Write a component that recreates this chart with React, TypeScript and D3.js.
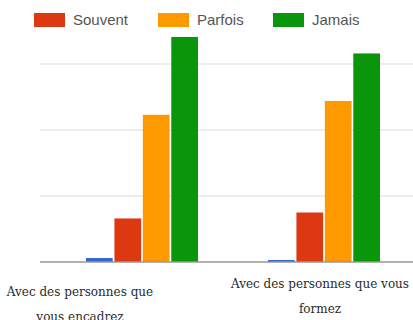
import React from "react";
import * as d3 from "d3";

const categories = ["Avec des personnes que vous encadrez", "Avec des personnes que vous formez"];
const labelLines = [
  ["Avec des personnes que", "vous encadrez"],
  ["Avec des personnes que vous", "formez"],
];
const series = ["Sans réponse", "Souvent", "Parfois", "Jamais"];
const legendSeries = ["Souvent", "Parfois", "Jamais"];
const colors = ["#3366cc", "#dc3912", "#ff9900", "#0a960a"];
const values = [
  [0.6, 6.6, 22.3, 34.1],
  [0.3, 7.5, 24.4, 31.6],
];
const gridTicks = [10, 20, 30];

export default function App() {
  const W = 413, H = 320;
  const baseY = 262;
  const y = d3.scaleLinear().domain([0, 40]).range([baseY, baseY - 264]);
  const x0 = d3.scaleBand().domain(categories).range([51, 415]);
  const x1 = d3.scaleBand().domain(series).range([35, 147]).paddingInner(0.06);
  const labelX = [80, 320];
  const labelY = [296, 288];
  const legendX = [34, 158, 273];

  return (
    <svg width={W} height={H} style={{ position: "absolute", left: 0, top: 0, background: "#fff" }}>
      {gridTicks.map((t) => (
        <line key={t} x1={40} x2={W} y1={y(t)} y2={y(t)} stroke="#dcdcdc" strokeWidth={1.2} />
      ))}
      {categories.map((c, ci) => (
        <g key={c} transform={`translate(${x0(c)},0)`}>
          {series.map((s, si) => {
            const v = values[ci][si];
            return (
              <rect
                key={s}
                x={x1(s)}
                y={y(v)}
                width={x1.bandwidth()}
                height={baseY - y(v)}
                fill={colors[si]}
              />
            );
          })}
        </g>
      ))}
      <line x1={40} x2={W} y1={baseY} y2={baseY} stroke="#999" strokeWidth={1.3} />
      {categories.map((c, ci) => (
        <text
          key={c}
          x={labelX[ci]}
          y={labelY[ci]}
          textAnchor="middle"
          fontFamily="DejaVu Serif"
          fontSize={12}
          fill="#2a2a2a"
        >
          {labelLines[ci].map((l, li) => (
            <tspan key={li} x={labelX[ci]} dy={li === 0 ? 0 : 25}>
              {l}
            </tspan>
          ))}
        </text>
      ))}
      {legendSeries.map((s, i) => (
        <g key={s} transform={`translate(${legendX[i]},13)`}>
          <rect x={0} y={0} width={31} height={14} fill={colors[series.indexOf(s)]} />
          <text x={39} y={12} fontFamily="Liberation Sans, Arial, sans-serif" fontSize={15} fill="#555">
            {s}
          </text>
        </g>
      ))}
    </svg>
  );
}
